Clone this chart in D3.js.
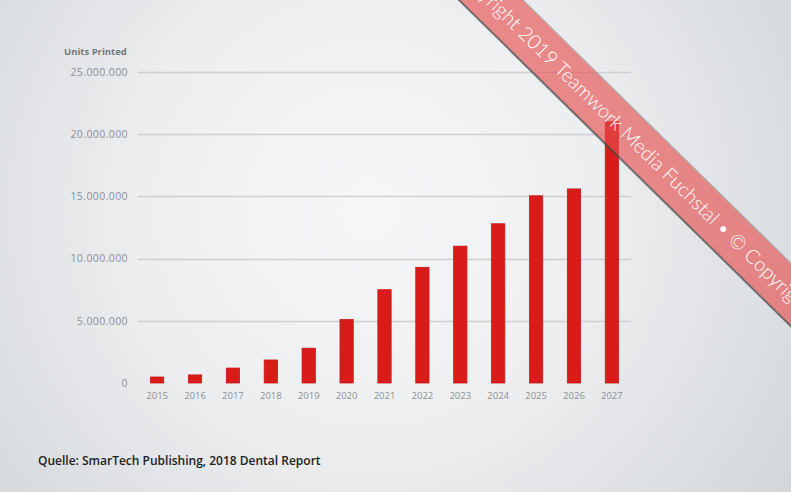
<!DOCTYPE html>
<html>
<head>
<meta charset="utf-8">
<script src="https://cdn.jsdelivr.net/npm/d3@7"></script>
<style>
    html, body { margin: 0; padding: 0; }
    body { width: 791px; height: 492px; overflow: hidden; }
</style>
</head>
<body>
<div class="chart_container"></div>
<script>
//^ DATA //
const years = ["2015", "2016", "2017", "2018", "2019", "2020", "2021", "2022", "2023", "2024", "2025", "2026", "2027"];
const unitsPrinted = [480000, 650000, 1200000, 1850000, 2800000, 5100000, 7500000, 9300000, 11000000, 12800000, 15050000, 15600000, 21000000];
const yTicks = [0, 5000000, 10000000, 15000000, 20000000, 25000000];
const yTitle = "Units Printed";
const sourceNote = "Quelle: SmarTech Publishing, 2018 Dental Report";
const ribbonText = "© Copyright 2019 Teamwork Media Fuchstal • © Copyright 2019 Teamwork Media Fuchstal • © Copyright";

//^ DIMENSIONS //
const width = 791;
const height = 492;
const plot = { left: 138, right: 631, top: 72, bottom: 383 };

const svg = d3.select(".chart_container").append("svg")
    .attr("width", width)
    .attr("height", height);

//^ BACKGROUND //
const defs = svg.append("defs");
const bg = defs.append("radialGradient").attr("id", "bg")
    .attr("gradientUnits", "userSpaceOnUse")
    .attr("cx", 370).attr("cy", 210).attr("r", 520);
bg.append("stop").attr("offset", "0%").attr("stop-color", "#f6f7f7");
bg.append("stop").attr("offset", "45%").attr("stop-color", "#eceef0");
bg.append("stop").attr("offset", "100%").attr("stop-color", "#d2d5d8");
svg.append("rect").attr("width", width).attr("height", height).attr("fill", "url(#bg)");

//^ SCALES //
const x = d3.scaleBand().domain(years).range([plot.left, plot.right]).paddingInner(0.65).paddingOuter(0.33);
const y = d3.scaleLinear().domain([0, 25000000]).range([plot.bottom, plot.top]);
const fmt = (d) => d3.format(",")(d).replace(/,/g, ".");

//^ GRID //
svg.append("g").selectAll("line").data(yTicks.filter((d) => d > 0)).join("line")
    .attr("x1", plot.left).attr("x2", plot.right)
    .attr("y1", (d) => Math.round(y(d)) + 0.5).attr("y2", (d) => Math.round(y(d)) + 0.5)
    .attr("stroke", "#cdd0d3").attr("stroke-width", 1.3);

//^ Y AXIS //
const yAxis = d3.axisLeft(y).tickValues(yTicks).tickFormat(fmt).tickSize(0).tickPadding(10);
svg.append("g").attr("transform", `translate(${plot.left},0)`).call(yAxis)
    .call((g) => g.select(".domain").remove())
    .call((g) => g.selectAll("text").attr("fill", "#8d9093").style("font", "10.5px 'Open Sans'").attr("letter-spacing", "0.4px"));

svg.append("text").attr("x", 64).attr("y", 55).text(yTitle)
    .attr("fill", "#74777a").style("font", "bold 9.5px 'Open Sans'");

//^ X AXIS //
const xAxis = d3.axisBottom(x).tickSize(0).tickPadding(9);
svg.append("g").attr("transform", `translate(0,${plot.bottom})`).call(xAxis)
    .call((g) => g.select(".domain").remove())
    .call((g) => g.selectAll("text").attr("fill", "#8d9093").style("font", "9.5px 'Open Sans'"));

//^ BARS //
svg.append("g").selectAll("rect").data(unitsPrinted).join("rect")
    .attr("x", (d, i) => x(years[i]))
    .attr("y", (d) => y(d))
    .attr("width", x.bandwidth())
    .attr("height", (d) => y(0) - y(d))
    .attr("fill", "#d91c19")
    .attr("stroke", "#c41a17")
    .attr("stroke-width", 0.8);

//^ SOURCE NOTE //
svg.append("text").attr("x", 38).attr("y", 465).text(sourceNote)
    .attr("fill", "#222").style("font", "600 12px 'Open Sans'");

//^ COPYRIGHT RIBBON //
const angle = 44.5;
const ribbon = svg.append("g").attr("transform", `translate(491,0) rotate(${angle})`);
ribbon.append("rect").attr("x", -300).attr("y", -22).attr("width", 1200).attr("height", 44)
    .attr("fill", "rgb(230,78,78)").attr("fill-opacity", 0.64);
ribbon.append("line").attr("x1", -300).attr("x2", 900).attr("y1", 22.5).attr("y2", 22.5)
    .attr("stroke", "#4a4a4a").attr("stroke-width", 2).attr("stroke-opacity", 0.75);
ribbon.append("line").attr("x1", -300).attr("x2", 900).attr("y1", -22.5).attr("y2", -22.5)
    .attr("stroke", "#6a6a6a").attr("stroke-width", 1).attr("stroke-opacity", 0.5);
const rt = ribbon.append("text").attr("y", 6.5).text(ribbonText)
    .attr("fill", "#fff").style("font", "300 19px Lato");

// fit the ribbon text so "2019" and the second "©" sit where they do in the picture
const node = rt.node();
const i2019 = ribbonText.indexOf("2019");
const iCopy = ribbonText.indexOf("©", 2);
const c2019 = node.getSubStringLength(0, i2019) + node.getSubStringLength(i2019, 4) / 2;
const cCopy = node.getSubStringLength(0, iCopy) + node.getSubStringLength(iCopy, 1) / 2;
const k = 280 / (cCopy - c2019);
rt.style("font-size", `${19 * k}px`);
rt.attr("x", 66 - c2019 * k);
</script>
</body>
</html>
